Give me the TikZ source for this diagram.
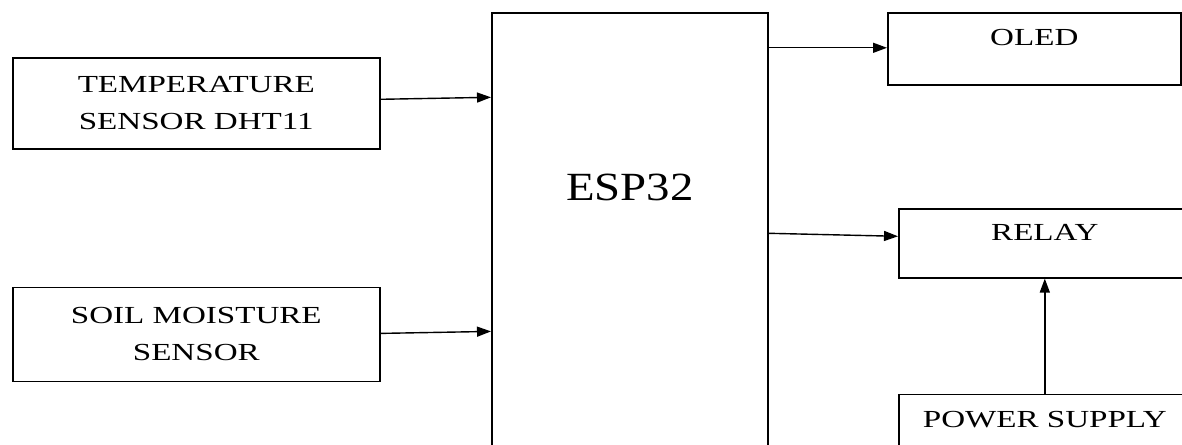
\documentclass[tikz,border=0pt]{standalone}
\usepackage{fontspec}
\setmainfont{Liberation Serif}
\newfontfamily\blockfont[FakeStretch=1.35]{Liberation Serif}
\newfontfamily\chipfont[FakeStretch=1.17]{Liberation Serif}
\usepackage{tikz}
\usetikzlibrary{arrows.meta, positioning, calc}
\tikzset{
  baseblock/.style={
    rectangle, draw=black, line width=1.6pt, fill=white,
    inner sep=0pt, font=\blockfont\fontsize{24.5}{37}\selectfont
  },
  sensorblock/.style={baseblock, align=center, minimum width=367pt, anchor=north west},
  outputblock/.style={baseblock, anchor=north west},
  chipblock/.style={baseblock, anchor=north west, font=\chipfont\fontsize{40}{48}\selectfont},
  flowline/.style={
    draw=black, line width=1.4pt, -{Triangle[length=14pt, width=10pt]}
  }
}

\begin{document}
\begin{tikzpicture}[x=1pt, y=-1pt]

  \useasboundingbox (0,0) rectangle (1182,444);
  \clip (0,0) rectangle (1182,444);

  % Sensors
  \node[sensorblock, minimum height=91pt] (temp) at (12,57) {TEMPERATURE\\SENSOR DHT11};
  \node[sensorblock, minimum height=94pt, below=137pt of temp.south west, anchor=north west] (soil) {SOIL MOISTURE\\SENSOR};

  % Controller
  \node[chipblock, minimum width=276pt, text height=188pt, text depth=270pt] (esp) at (491,12) {ESP32};

  % Outputs
  \node[outputblock, minimum width=293pt, text height=33pt, text depth=39pt] (oled) at (887,12) {OLED};
  \node[outputblock, minimum width=292pt, text height=32pt, text depth=37pt] (relay) at (898,208) {RELAY};
  \node[outputblock, minimum width=292pt, text height=33pt, text depth=45pt, below=115pt of relay.south west, anchor=north west] (power) {POWER SUPPLY};

  % Connecting Flows
  \draw[flowline] ([yshift=4pt]temp.east) -- ([yshift=6pt]temp.east -| esp.west);
  \draw[flowline] ([yshift=1pt]soil.east) -- ([yshift=3pt]soil.east -| esp.west);
  \draw[flowline] ([yshift=1pt]esp.east |- oled.west) -- ([yshift=1pt]oled.west);
  \draw[flowline] ([yshift=10pt]relay.west -| esp.east) -- ([yshift=7pt]relay.west);
  \draw[flowline] (power.north) -- (relay.south);

\end{tikzpicture}
\end{document}
